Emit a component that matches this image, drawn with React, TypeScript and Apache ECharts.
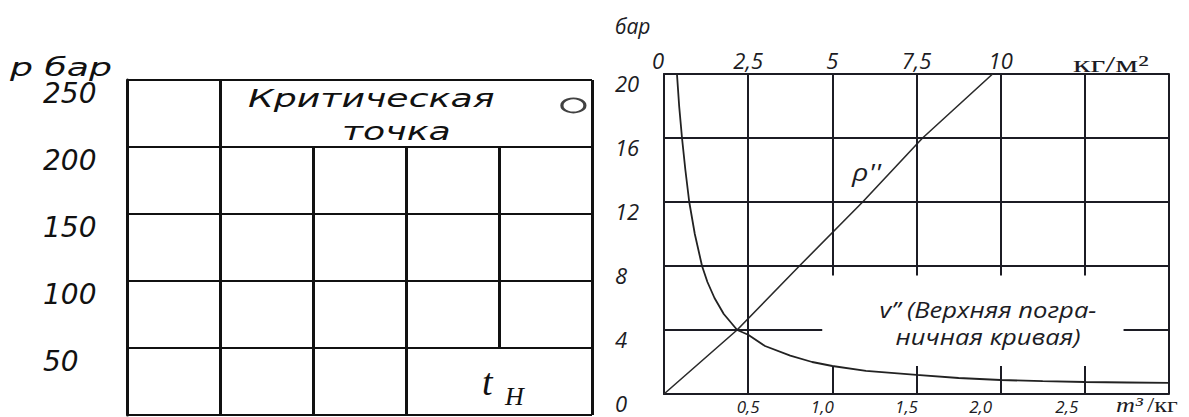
import React, { useEffect, useRef } from "react";
import * as echarts from "echarts";

// ---- Left panel: pressure grid p, бар over saturation temperature columns ----
const pTicks = [0, 50, 100, 150, 200, 250];
const tColumns = [0, 1, 2, 3, 4, 5];
const criticalPoint = [4.8, 231];
// vertical rules of the left grid: [column, pFrom, pTo]
const leftVerticals = [
  [1, 0, 250],
  [2, 0, 200],
  [3, 0, 200],
  [4, 50, 200],
  [5, 0, 250],
];

// ---- Right panel: dry saturated steam ----
const pBarTicks = [0, 4, 8, 12, 16, 20];
const rhoTicks = [0, 2.5, 5, 7.5, 10, 12.5, 15];
const vTicks = [0, 0.5, 1.0, 1.5, 2.0, 2.5, 3.0];

// density ρ'' (кг/м³) against pressure (бар)
const rhoPressure = [0, 4, 8, 12, 16, 20];
const rhoValues = [0, 2.17, 4.02, 5.9, 7.68, 9.76];

// specific volume v'' (м³/кг) against pressure (бар)
const vPressure = [20, 18, 16, 14, 12, 10, 8, 7, 6, 5, 4, 3.7, 3, 2.4, 2, 1.75, 1.45, 1.19, 1.0, 0.875, 0.8, 0.75, 0.72, 0.69];
const vValues = [0.077, 0.09, 0.107, 0.127, 0.15, 0.183, 0.226, 0.258, 0.3, 0.355, 0.435, 0.5, 0.6, 0.75, 0.88, 1.0, 1.2, 1.5, 1.75, 2.0, 2.25, 2.5, 2.75, 3.0];

// rules of the right grid (in v / p coordinates)
const rightHorizontals = [
  [4, 0, 0.94],
  [4, 2.73, 3],
  [8, 0, 3],
  [12, 0, 3],
  [16, 0, 3],
];
const rightVerticals = [
  [0.5, 0, 20],
  [1.0, 7.4, 20],
  [1.0, 0, 1.75],
  [1.5, 7.4, 20],
  [1.5, 0, 1.75],
  [2.0, 7.4, 20],
  [2.0, 0, 1.75],
  [2.5, 7.4, 20],
  [2.5, 0, 1.75],
  [3.0, 0, 20],
];

// hand-set leftward shift (px) of the v-axis tick labels
const vLabelShift: Record<string, number> = { "0,5": 0, "1,0": 10, "1,5": 10, "2,0": 20, "2,5": 18 };

const INK = "#111";
const INK2 = "#1c1c24";
const gostFont = "DejaVu Sans";
const sansFont = "Open Sans";
const serifFont = "Liberation Serif";

const comma = (v: number, digits: number) => v.toFixed(digits).replace(".", ",");

function buildOption(): echarts.EChartsCoreOption {
  const leftRules = leftVerticals.map(([t, a, b]) => [
    { coord: [t, a] },
    { coord: [t, b] },
  ]);
  const rightRules = [
    ...rightHorizontals.map(([p, a, b]) => [{ coord: [a, p] }, { coord: [b, p] }]),
    ...rightVerticals.map(([v, a, b]) => [{ coord: [v, a] }, { coord: [v, b] }]),
  ];

  const vLabelRich: Record<string, any> = {};
  Object.entries(vLabelShift).forEach(([, s]) => {
    vLabelRich["s" + s] = {
      fontFamily: sansFont,
      fontStyle: "italic",
      fontSize: 17,
      lineHeight: 16,
      color: INK2,
      padding: [0, s * 2, 0, 0],
    };
  });

  const text = (
    txt: string,
    x: number,
    y: number,
    fontFamily: string,
    fontSize: number,
    opts: any = {}
  ) => ({
    type: "text",
    x,
    y,
    z: 10,
    scaleX: opts.scaleX ?? 1,
    style: {
      text: txt,
      fontFamily,
      fontSize,
      fontStyle: opts.italic === false ? "normal" : "italic",
      fill: opts.fill ?? INK,
      align: opts.align ?? "left",
      verticalAlign: "middle",
      lineHeight: opts.lineHeight,
    },
  });

  return {
    animation: false,
    backgroundColor: "#fff",
    grid: [
      { left: 127, top: 80, width: 465, height: 335 },
      { left: 664, top: 74, width: 505, height: 320 },
    ],
    xAxis: [
      {
        gridIndex: 0,
        type: "value",
        min: tColumns[0],
        max: tColumns[tColumns.length - 1],
        interval: 1,
        show: false,
      },
      {
        gridIndex: 1,
        type: "value",
        position: "bottom",
        min: vTicks[0],
        max: vTicks[vTicks.length - 1],
        interval: 0.5,
        axisLine: { show: true, lineStyle: { color: INK2, width: 2 } },
        axisTick: { show: false },
        splitLine: { show: false },
        axisLabel: {
          fontFamily: sansFont,
          fontStyle: "italic",
          fontSize: 17,
          lineHeight: 16,
          color: INK2,
          margin: 4,
          formatter: (v: number) => {
            if (v === 0 || v === 3) return "";
            const s = comma(v, 1);
            return `{s${vLabelShift[s] ?? 0}|${s}}`;
          },
          rich: vLabelRich,
        },
      },
      {
        gridIndex: 1,
        type: "value",
        position: "top",
        min: rhoTicks[0],
        max: rhoTicks[rhoTicks.length - 1],
        interval: 2.5,
        axisLine: { show: true, lineStyle: { color: INK2, width: 2 } },
        axisTick: { show: false },
        splitLine: { show: false },
        axisLabel: {
          fontFamily: sansFont,
          fontStyle: "italic",
          fontSize: 22,
          color: INK2,
          margin: 3,
          alignMinLabel: "right",
          formatter: (v: number) =>
            v > 10 ? "" : Number.isInteger(v) ? String(v) : comma(v, 1),
        },
      },
    ],
    yAxis: [
      {
        gridIndex: 0,
        type: "value",
        min: pTicks[0],
        max: pTicks[pTicks.length - 1],
        interval: 50,
        axisLine: { show: true, lineStyle: { color: INK, width: 3 } },
        axisTick: { show: false },
        splitLine: { show: true, lineStyle: { color: INK, width: 2 } },
        axisLabel: {
          fontFamily: gostFont,
          fontStyle: "italic",
          fontSize: 28,
          lineHeight: 27,
          color: INK,
          margin: 84,
          align: "left",
          verticalAlign: "top",
          formatter: (v: number) => (v === 0 ? "" : String(v)),
        },
      },
      {
        gridIndex: 1,
        type: "value",
        min: pBarTicks[0],
        max: pBarTicks[pBarTicks.length - 1],
        interval: 4,
        axisLine: { show: true, lineStyle: { color: INK2, width: 2 } },
        axisTick: { show: false },
        splitLine: { show: false },
        axisLabel: {
          fontFamily: sansFont,
          fontStyle: "italic",
          fontSize: 22,
          lineHeight: 18,
          color: INK2,
          margin: 49,
          align: "left",
          verticalAlign: "top",
        },
      },
    ],
    series: [
      {
        name: "Критическая точка",
        type: "scatter",
        xAxisIndex: 0,
        yAxisIndex: 0,
        data: [criticalPoint],
        symbol: "circle",
        symbolSize: [23, 14],
        itemStyle: { color: "#fff", borderColor: INK, borderWidth: 2.5 },
        silent: true,
        z: 5,
        markLine: {
          silent: true,
          symbol: ["none", "none"],
          label: { show: false },
          lineStyle: { color: INK, width: 3, type: "solid" },
          data: leftRules,
        },
      },
      {
        name: "v''",
        type: "line",
        xAxisIndex: 1,
        yAxisIndex: 1,
        data: vValues.map((v, i) => [v, vPressure[i]]),
        smooth: false,
        showSymbol: false,
        lineStyle: { color: "#222", width: 1.8 },
        silent: true,
        z: 4,
        markLine: {
          silent: true,
          symbol: ["none", "none"],
          label: { show: false },
          lineStyle: { color: INK2, width: 2, type: "solid" },
          data: rightRules,
        },
      },
      {
        name: "ρ''",
        type: "line",
        xAxisIndex: 2,
        yAxisIndex: 1,
        data: rhoValues.map((r, i) => [r, rhoPressure[i]]),
        showSymbol: false,
        lineStyle: { color: "#2a2a2a", width: 1.6 },
        silent: true,
        z: 4,
      },
    ],
    graphic: [
      // left panel
      text("р бар", 10, 67, gostFont, 25, { scaleX: 1.45 }),
      text("Критическая", 248, 98, gostFont, 25, { scaleX: 1.45 }),
      text("точка", 342, 131, gostFont, 25, { scaleX: 1.45 }),
      text("t", 482, 382, serifFont, 38, {}),
      text("H", 505, 396, serifFont, 26, {}),
      // right panel
      text("бар", 615, 26, sansFont, 21, { fill: INK2 }),
      text("кг/м²", 1073, 64, serifFont, 24, { italic: false, scaleX: 1.5, fill: INK2 }),
      text("ρ''", 852, 172, sansFont, 24, { fill: INK2, scaleX: 1.2 }),
      text("v” (Верхняя погра-\nничная кривая)", 988, 323, sansFont, 21, {
        align: "center",
        lineHeight: 27,
        fill: INK2,
        scaleX: 1.22,
      }),
      {
        type: "text",
        x: 1116,
        y: 405,
        z: 10,
        scaleX: 1.25,
        style: {
          text: "{m|m³} {k|/кг}",
          fill: INK2,
          align: "left",
          verticalAlign: "middle",
          rich: {
            m: { fontFamily: serifFont, fontStyle: "italic", fontSize: 21, lineHeight: 20, fill: INK2 },
            k: { fontFamily: serifFont, fontSize: 21, lineHeight: 20, fill: INK2 },
          },
        },
      },
    ],
  };
}

export default function App() {
  const ref = useRef<HTMLDivElement>(null);
  useEffect(() => {
    if (!ref.current) return;
    const chart = echarts.init(ref.current, null, { renderer: "svg" });
    chart.setOption(buildOption());
    return () => chart.dispose();
  }, []);
  return (
    <div
      ref={ref}
      style={{ position: "absolute", left: 0, top: 0, width: 1189, height: 417, background: "#fff" }}
    />
  );
}
